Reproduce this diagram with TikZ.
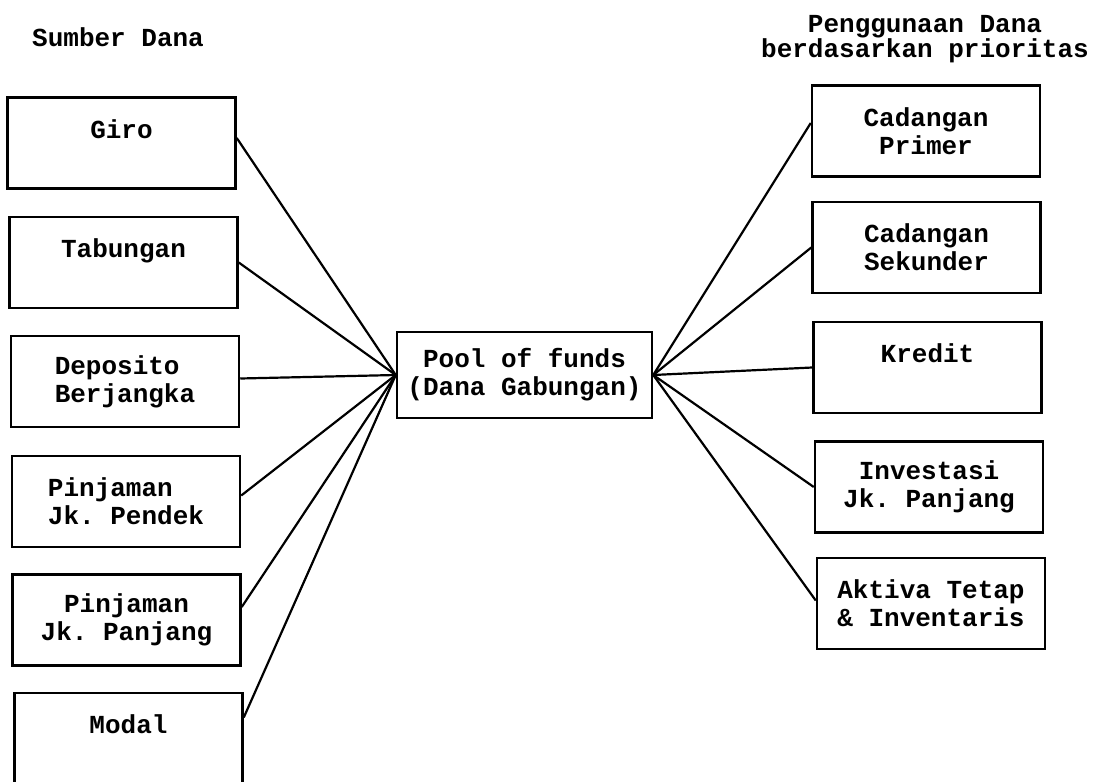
\documentclass[tikz,border=0pt]{standalone}
\usepackage{fontspec}
\setmonofont{Liberation Mono}
\usepackage{tikz}
\usetikzlibrary{positioning, calc}
\newcommand{\boxfont}{\ttfamily\bfseries\fontsize{26}{28}\selectfont}
\newcommand{\headfont}{\ttfamily\bfseries\fontsize{26}{23}\selectfont}
\tikzset{
  fundbox/.style={rectangle, draw, line width=2.5pt, minimum width=228pt, minimum height=91pt, inner sep=0pt, align=center, font=\boxfont},
  poolbox/.style={rectangle, draw, line width=2.5pt, minimum width=255pt, minimum height=86pt, inner sep=0pt, align=center, font=\boxfont},
  heading/.style={inner sep=0pt, align=center, font=\headfont},
  link/.style={line width=2.2pt},
}

\begin{document}
\begin{tikzpicture}[x=1pt, y=-1pt]
  \clip (0,0) rectangle (1099,781);

  % Headings
  \node[heading, anchor=base west] (hsumber) at (32,47) {Sumber Dana};
  \node[heading, anchor=north] (hguna) at (925,15) {Penggunaan Dana\\berdasarkan prioritas};

  % Sources (left)
  \node[fundbox] (giro) at (121.5,143) {Giro\\\mbox{}};
  \node[fundbox] (tabungan) at (123.5,262.5) {Tabungan\\\mbox{}};
  \node[fundbox, align=left] (deposito) at (125,381.5) {Deposito\\Berjangka};
  \node[fundbox, align=left] (pendek) at (126,501.5) {Pinjaman\\Jk. Pendek};
  \node[fundbox] (panjang) at (126.5,620) {Pinjaman\\Jk. Panjang};
  \node[fundbox] (modal) at (128.5,738.5) {Modal\\\mbox{}};

  % Pool
  \node[poolbox] (pool) at (524.5,375) {Pool of funds\\(Dana Gabungan)};

  % Uses (right)
  \node[fundbox] (primer) at (926,131) {Cadangan\\Primer};
  \node[fundbox] (sekunder) at (926.5,247.5) {Cadangan\\Sekunder};
  \node[fundbox] (kredit) at (927.5,367.5) {Kredit\\\mbox{}};
  \node[fundbox] (investasi) at (929,487) {Investasi\\Jk. Panjang};
  \node[fundbox] (aktiva) at (931,603.5) {Aktiva Tetap\\\& Inventaris};

  % Connectors
  \foreach \src/\dy in {giro/5, tabungan/0, deposito/3, pendek/6, panjang/13, modal/21}
    \draw[link] ([yshift=\dy pt]\src.east) -- (pool.west);
  \foreach \dst/\dy in {primer/8, sekunder/0, kredit/0, investasi/0, aktiva/3}
    \draw[link] (pool.east) -- ([yshift=\dy pt]\dst.west);
\end{tikzpicture}
\end{document}
